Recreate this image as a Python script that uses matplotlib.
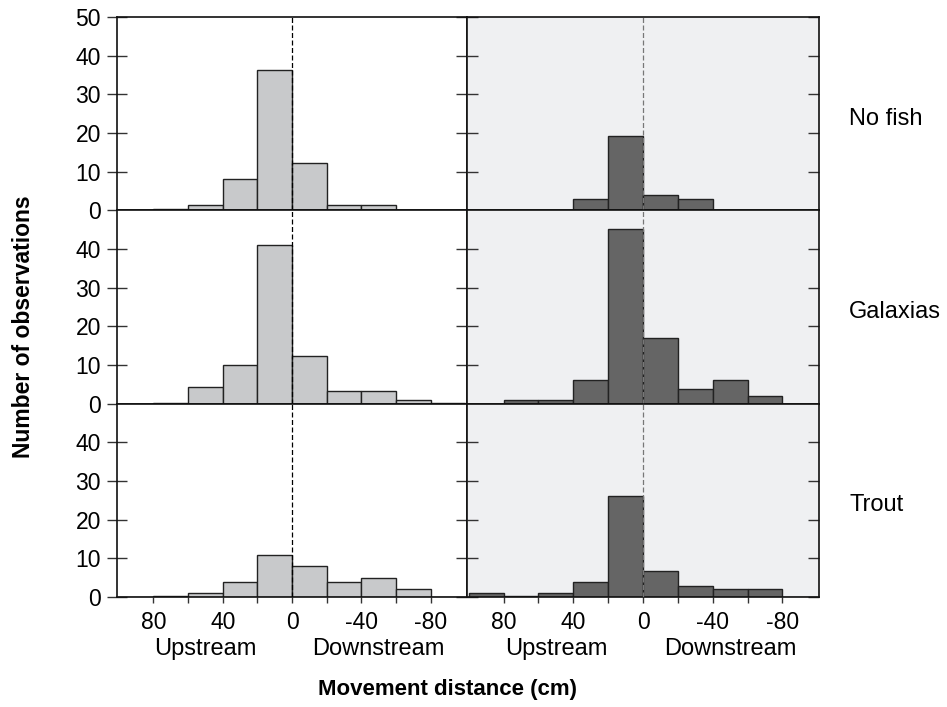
"""
Movement distance histograms: three fish treatments x two columns
"""

import matplotlib
matplotlib.use('Agg')
import matplotlib.pyplot as plt

plt.rcParams['font.family'] = ['Liberation Sans', 'DejaVu Sans']

# bins of 20 cm, upstream positive (left), downstream negative (right)
bin_centers = [90, 70, 50, 30, 10, -10, -30, -50, -70, -90]
x_ticks = [80, 60, 40, 20, 0, -20, -40, -60, -80]
x_tick_labels = ['80', '', '40', '', '0', '', '-40', '', '-80']

row_names = ['No fish', 'Galaxias', 'Trout']

# left column (light bars) / right column (dark bars)
no_fish_left = [0, 0.3, 1.5, 8, 36.2, 12.3, 1.3, 1.5, 0.2, 0.2]
no_fish_right = [0, 0, 0, 3, 19.2, 4, 3, 0, 0, 0]
galaxias_left = [0, 0.2, 4.4, 10, 41, 12.4, 3.3, 3.4, 1, 0.2]
galaxias_right = [0, 1, 1, 6.2, 45.2, 17.1, 3.8, 6.2, 2.1, 0]
trout_left = [0, 0.2, 1, 3.8, 10.9, 8.1, 3.8, 4.8, 2, 0]
trout_right = [1, 0.2, 1, 3.8, 26.1, 6.7, 2.9, 2, 2, 0]

left_vals = [no_fish_left, galaxias_left, trout_left]
right_vals = [no_fish_right, galaxias_right, trout_right]

fig = plt.figure(figsize=(9.47, 7.07), dpi=100)

# panel geometry in pixels
W, H = 947, 707
x0, xm, x1 = 117, 467, 819
y_top, y_bot = 17, 597
row_h = (y_bot - y_top) / 3

edge_col = '#222222'
tick_col = '#333333'

for r in range(3):
    top = y_top + r * row_h
    bottom = 1 - (top + row_h) / H
    for c in range(2):
        left = (x0 if c == 0 else xm) / W
        width = ((xm - x0) if c == 0 else (x1 - xm)) / W
        ax = fig.add_axes([left, bottom, width, row_h / H])

        vals = left_vals[r] if c == 0 else right_vals[r]
        face = '#c8c9cb' if c == 0 else '#656565'
        ax.bar(bin_centers, vals, width=20, facecolor=face,
               edgecolor=edge_col, linewidth=1.0, zorder=2)
        ax.axvline(0, color='black' if c == 0 else '#777777',
                   linestyle=(0, (4, 2)), linewidth=0.9, zorder=3)

        if c == 1:
            ax.set_facecolor('#eff0f2')

        ax.set_xlim(101, -101)
        ax.set_ylim(0, 50)

        for s in ax.spines.values():
            s.set_linewidth(1.2)
            s.set_color('#111111')

        # x ticks
        ax.set_xticks(x_ticks)
        if r == 2:
            ax.set_xticklabels(x_tick_labels, fontsize=16.5)
        else:
            ax.set_xticklabels([])
        ax.tick_params(axis='x', direction='out', length=4, width=1,
                       color=tick_col, pad=6)

        # y ticks
        if r == 0:
            ax.set_yticks([0, 10, 20, 30, 40, 50])
        else:
            ax.set_yticks([0, 10, 20, 30, 40])
        ax.tick_params(axis='y', which='both', right=True, direction='in',
                       length=8, width=1, color=tick_col, labelsize=16.5)
        if c == 0:
            ax.tick_params(axis='y', left=True, direction='inout',
                           length=15, pad=4)
            # right-side ticks stay inward
            for t in ax.yaxis.get_major_ticks():
                t.tick2line.set_marker(0)
                t.tick2line.set_markersize(8)
        else:
            ax.set_yticklabels([])

    # treatment label on the right
    fig.text(849 / W, 1 - (top + row_h / 2 + 5) / H, row_names[r],
             fontsize=17, ha='left', va='center')

# direction labels under the bottom row
def px_from_data(col, xval):
    if col == 0:
        return x0 + (101 - xval) / 202 * (xm - x0)
    return xm + (101 - xval) / 202 * (x1 - xm)

for c in range(2):
    fig.text(px_from_data(c, 50) / W, 1 - 649 / H, 'Upstream',
             fontsize=17, ha='center', va='center')
    fig.text(px_from_data(c, -50) / W, 1 - 649 / H, 'Downstream',
             fontsize=17, ha='center', va='center')

fig.text(447 / W, 1 - 690 / H, 'Movement distance (cm)',
         fontsize=16, fontweight='bold', ha='center', va='center')
fig.text(24 / W, 1 - 327 / H, 'Number of observations',
         fontsize=16.5, fontweight='bold', ha='center', va='center',
         rotation=90)

fig.savefig('out.png', dpi=100)
